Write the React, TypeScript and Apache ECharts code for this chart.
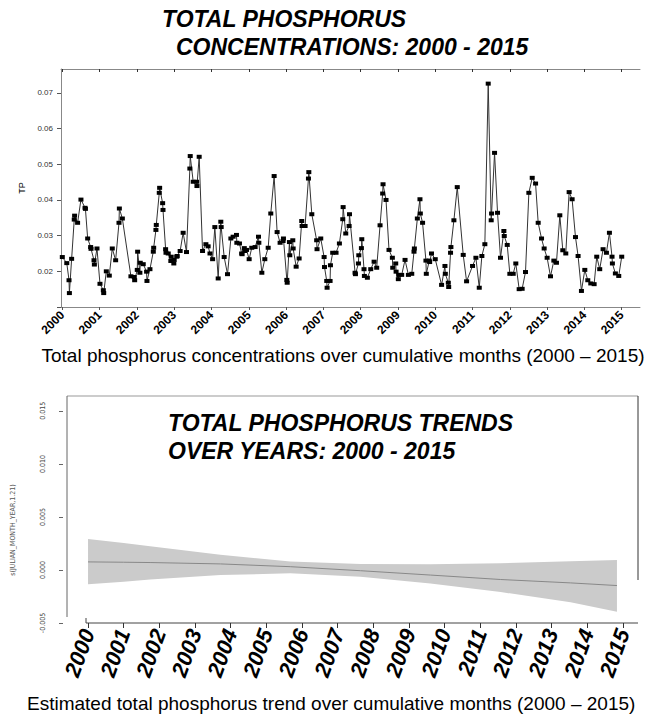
import React, { useEffect, useRef } from "react";
import * as echarts from "echarts";

// ---- Total phosphorus samples (decimal year, mg/L) ----
const tpYears = [
  2000.0, 2000.12, 2000.18, 2000.19, 2000.25, 2000.32, 2000.33, 2000.41, 2000.5, 2000.61, 2000.62, 2000.68,
  2000.76, 2000.77, 2000.85, 2000.86, 2000.93, 2001.01, 2001.1, 2001.11, 2001.18, 2001.26, 2001.34, 2001.43,
  2001.52, 2001.53, 2001.61, 2001.84, 2001.93, 2001.94, 2002.01, 2002.02, 2002.08, 2002.09, 2002.17, 2002.26,
  2002.27, 2002.35, 2002.44, 2002.45, 2002.51, 2002.52, 2002.6, 2002.61, 2002.69, 2002.7, 2002.77, 2002.78,
  2002.84, 2002.91, 2002.92, 2002.99, 2003.0, 2003.07, 2003.08, 2003.16, 2003.24, 2003.33, 2003.42, 2003.43,
  2003.51, 2003.6, 2003.61, 2003.67, 2003.76, 2003.85, 2003.91, 2003.96, 2004.03, 2004.09, 2004.18, 2004.25,
  2004.26, 2004.34, 2004.43, 2004.52, 2004.58, 2004.67, 2004.68, 2004.75, 2004.81, 2004.82, 2004.88, 2004.89,
  2004.94, 2005.01, 2005.08, 2005.17, 2005.26, 2005.27, 2005.35, 2005.43, 2005.52, 2005.59, 2005.68, 2005.76,
  2005.84, 2005.92, 2005.93, 2006.02, 2006.03, 2006.09, 2006.1, 2006.18, 2006.19, 2006.27, 2006.35, 2006.42,
  2006.43, 2006.51, 2006.6, 2006.61, 2006.69, 2006.82, 2006.83, 2006.93, 2007.02, 2007.03, 2007.09, 2007.1,
  2007.18, 2007.19, 2007.25, 2007.34, 2007.43, 2007.52, 2007.53, 2007.6, 2007.69, 2007.7, 2007.85, 2007.86,
  2007.94, 2007.95, 2008.02, 2008.03, 2008.09, 2008.1, 2008.18, 2008.27, 2008.36, 2008.43, 2008.52, 2008.59,
  2008.6, 2008.68, 2008.76, 2008.85, 2008.86, 2008.94, 2008.95, 2009.01, 2009.02, 2009.1, 2009.19, 2009.28,
  2009.37, 2009.43, 2009.44, 2009.52, 2009.59, 2009.6, 2009.66, 2009.75, 2009.76, 2009.84, 2009.85, 2009.9,
  2010.0, 2010.17, 2010.26, 2010.27, 2010.35, 2010.36, 2010.41, 2010.42, 2010.5, 2010.59, 2010.75, 2010.84,
  2011.0, 2011.09, 2011.18, 2011.25, 2011.33, 2011.42, 2011.5, 2011.51, 2011.59, 2011.67, 2011.75, 2011.84,
  2011.85, 2011.93, 2012.0, 2012.09, 2012.16, 2012.25, 2012.33, 2012.42, 2012.51, 2012.6, 2012.69, 2012.76,
  2012.85, 2012.92, 2013.0, 2013.09, 2013.18, 2013.25, 2013.34, 2013.42, 2013.5, 2013.59, 2013.67, 2013.76,
  2013.83, 2013.92, 2014.01, 2014.09, 2014.17, 2014.26, 2014.33, 2014.41, 2014.5, 2014.59, 2014.67, 2014.74,
  2014.75, 2014.83, 2014.92, 2015.0,
];
const tpValues = [
  0.024, 0.0223, 0.0175, 0.0139, 0.0235, 0.0345, 0.0356, 0.0336, 0.0401, 0.0378, 0.0375, 0.0292,
  0.0268, 0.0263, 0.0231, 0.0219, 0.0264, 0.0165, 0.0147, 0.0139, 0.02, 0.0188, 0.0264, 0.0231,
  0.0336, 0.0376, 0.0348, 0.0186, 0.0184, 0.0175, 0.0204, 0.0255, 0.0196, 0.0224, 0.022, 0.0199,
  0.0173, 0.0206, 0.0255, 0.0266, 0.0316, 0.033, 0.042, 0.0434, 0.0391, 0.0372, 0.0262, 0.0252,
  0.025, 0.0229, 0.0241, 0.0222, 0.0232, 0.0241, 0.0243, 0.0257, 0.0308, 0.0254, 0.0488, 0.0523,
  0.0451, 0.0451, 0.0439, 0.0521, 0.0257, 0.0276, 0.027, 0.025, 0.0234, 0.0324, 0.018, 0.0339,
  0.0324, 0.024, 0.0192, 0.0292, 0.0297, 0.0302, 0.028, 0.0278, 0.025, 0.0248, 0.0265, 0.0257,
  0.026, 0.0234, 0.0266, 0.0268, 0.0297, 0.028, 0.0196, 0.0234, 0.0266, 0.0362, 0.0467, 0.031,
  0.028, 0.0285, 0.0292, 0.0176, 0.0168, 0.0282, 0.0245, 0.0287, 0.0264, 0.0213, 0.0236, 0.0341,
  0.0327, 0.0327, 0.046, 0.0478, 0.036, 0.0287, 0.0262, 0.0292, 0.024, 0.0212, 0.0173, 0.0154,
  0.0173, 0.0217, 0.0252, 0.0252, 0.0278, 0.0346, 0.038, 0.0306, 0.0327, 0.036, 0.0196, 0.0192,
  0.0222, 0.0245, 0.0265, 0.029, 0.0206, 0.0187, 0.0182, 0.0206, 0.0227, 0.021, 0.0329, 0.0418,
  0.0444, 0.04, 0.026, 0.0238, 0.021, 0.0222, 0.0199, 0.0178, 0.019, 0.019, 0.0232, 0.019,
  0.0193, 0.0255, 0.0264, 0.0348, 0.0402, 0.0362, 0.0336, 0.023, 0.0193, 0.023, 0.0226, 0.025,
  0.0234, 0.0162, 0.0215, 0.0193, 0.0168, 0.0156, 0.0252, 0.0268, 0.0343, 0.0436, 0.0246, 0.0172,
  0.0215, 0.0238, 0.0154, 0.0243, 0.0276, 0.0726, 0.0343, 0.0362, 0.0532, 0.0364, 0.0238, 0.0313,
  0.0299, 0.0274, 0.0193, 0.0193, 0.0222, 0.015, 0.0151, 0.0198, 0.042, 0.0462, 0.0446, 0.0336,
  0.0292, 0.0264, 0.0238, 0.0186, 0.023, 0.0224, 0.0357, 0.0259, 0.025, 0.0422, 0.0402, 0.0296,
  0.0243, 0.0145, 0.0204, 0.0175, 0.0166, 0.0164, 0.0241, 0.0206, 0.0262, 0.0252, 0.0308, 0.0241,
  0.0222, 0.0194, 0.0187, 0.0241,
];

// ---- Estimated smooth trend with confidence band ----
const trendYears = [2000.0, 2001.0, 2001.74, 2003.71, 2005.67, 2007.64, 2009.6, 2011.57, 2013.53, 2014.83];
const trendFit = [0.00076, 0.00073, 0.0007, 0.00057, 0.00031, -0.00007, -0.00048, -0.0009, -0.00122, -0.00147];
const trendUpper = [0.00293, 0.00255, 0.00223, 0.00143, 0.00079, 0.00057, 0.00054, 0.00063, 0.00083, 0.00095];
const trendLower = [-0.00135, -0.0011, -0.0009, -0.00048, -0.00032, -0.00064, -0.00128, -0.00208, -0.00304, -0.00393];

const yearTicks = [2000, 2001, 2002, 2003, 2004, 2005, 2006, 2007, 2008, 2009, 2010, 2011, 2012, 2013, 2014, 2015];

const topTitle = ["TOTAL PHOSPHORUS", "CONCENTRATIONS: 2000 - 2015"];
const bottomTitle = ["TOTAL PHOSPHORUS TRENDS", "OVER YEARS: 2000 - 2015"];
const topCaption = "Total phosphorus concentrations over cumulative months (2000 \u2013 2015)";
const bottomCaption = "Estimated total phosphorus trend over cumulative months (2000 \u2013 2015)";
const bottomYName = "s(JULIAN_MONTH_YEAR,1.21)";

const SANS = "'Liberation Sans', Arial, sans-serif";
const NARROW = "'Liberation Sans Narrow', 'DejaVu Sans Condensed', sans-serif";

export default function App() {
  const ref = useRef<HTMLDivElement>(null);

  useEffect(() => {
    if (!ref.current) return;
    const chart = echarts.init(ref.current, undefined, { renderer: "svg" });

    const tpData = tpYears.map((y, i) => [y, tpValues[i]]);
    const fitData = trendYears.map((y, i) => [y, trendFit[i]]);

    const titleStyle = {
      fontFamily: SANS,
      fontWeight: "bold",
      fontStyle: "italic",
      fontSize: 23,
      fill: "#000",
      textAlign: "left",
      textVerticalAlign: "middle",
    };

    const option: any = {
      animation: false,
      backgroundColor: "#fff",
      grid: [
        { left: 61, right: 7, top: 69, bottom: 410 },
        { left: 67, right: 9, top: 396, bottom: 94 },
      ],
      xAxis: [
        {
          type: "value",
          gridIndex: 0,
          position: "bottom",
          min: 1999.965,
          max: 2015.49,
          splitLine: { show: false },
          axisLine: { show: true, onZero: false, lineStyle: { color: "#888", width: 1 } },
          axisTick: { show: true, customValues: yearTicks, length: 3, lineStyle: { color: "#555" } },
          axisLabel: {
            customValues: yearTicks,
            rotate: 45,
            margin: 6,
            fontFamily: SANS,
            fontWeight: "bold",
            fontSize: 12,
            color: "#000",
            formatter: (v: number) => String(Math.round(v)),
          },
        },
        {
          type: "value",
          gridIndex: 0,
          position: "top",
          min: 1999.965,
          max: 2015.49,
          splitLine: { show: false },
          axisLine: { show: true, onZero: false, lineStyle: { color: "#888", width: 1 } },
          axisTick: { show: true, inside: true, customValues: yearTicks, length: 3, lineStyle: { color: "#333" } },
          axisLabel: { show: false },
        },
        {
          type: "value",
          gridIndex: 1,
          position: "bottom",
          min: 1999.41,
          max: 2015.42,
          splitLine: { show: false },
          axisLine: { show: false, onZero: false },
          axisTick: { show: true, customValues: yearTicks, length: 5, lineStyle: { color: "#333" } },
          axisLabel: {
            customValues: yearTicks,
            rotate: 70,
            margin: 7,
            fontFamily: SANS,
            fontWeight: "bold",
            fontStyle: "italic",
            fontSize: 22,
            color: "#000",
            formatter: (v: number) => String(Math.round(v)),
          },
        },
      ],
      yAxis: [
        {
          type: "value",
          gridIndex: 0,
          min: 0.01,
          max: 0.0767,
          interval: 0.01,
          name: "TP",
          nameLocation: "middle",
          nameGap: 34,
          nameRotate: 90,
          nameTextStyle: { fontFamily: SANS, fontSize: 9, color: "#000" },
          splitLine: { show: false },
          axisLine: { show: true, onZero: false, lineStyle: { color: "#888", width: 1 } },
          axisTick: { show: true, length: 4, lineStyle: { color: "#555" } },
          axisLabel: {
            margin: 8,
            fontFamily: SANS,
            fontSize: 8,
            color: "#333",
            showMaxLabel: false,
            formatter: (v: number) => (v < 0.015 || v > 0.075 ? "" : v.toFixed(2)),
          },
        },
        {
          type: "value",
          gridIndex: 1,
          min: -0.005,
          max: 0.0164,
          interval: 0.005,
          offset: 4,
          splitLine: { show: false },
          axisLine: { show: false, onZero: false },
          axisTick: { show: true, length: 4, lineStyle: { color: "#666" } },
          axisLabel: {
            rotate: 90,
            margin: 17,
            fontFamily: NARROW,
            fontSize: 7,
            color: "#444",
            showMaxLabel: false,
            formatter: (v: number) => (v > 0.016 ? "" : v.toFixed(3)),
          },
        },
      ],
      series: [
        {
          type: "line",
          xAxisIndex: 0,
          yAxisIndex: 0,
          data: tpData,
          symbol: "rect",
          symbolSize: [5, 4],
          itemStyle: { color: "#000" },
          lineStyle: { color: "#333", width: 1 },
          z: 3,
        },
        {
          type: "custom",
          xAxisIndex: 2,
          yAxisIndex: 1,
          silent: true,
          data: [[trendYears[0], trendFit[0]]],
          renderItem: (params: any, api: any) => {
            const upper = trendYears.map((y, i) => api.coord([y, trendUpper[i]]));
            const lower = trendYears.map((y, i) => api.coord([y, trendLower[i]])).reverse();
            return {
              type: "polygon",
              shape: { points: upper.concat(lower) },
              style: { fill: "#cbcbcb", stroke: "none" },
            };
          },
          z: 2,
        },
        {
          type: "line",
          xAxisIndex: 2,
          yAxisIndex: 1,
          data: fitData,
          symbol: "none",
          lineStyle: { color: "#888", width: 1 },
          z: 4,
        },
      ],
      graphic: [
        { type: "text", x: 162, y: 19, style: { ...titleStyle, text: topTitle[0] } },
        { type: "text", x: 176, y: 47, style: { ...titleStyle, text: topTitle[1] } },
        { type: "text", x: 168, y: 423, style: { ...titleStyle, text: bottomTitle[0] } },
        { type: "text", x: 168, y: 451, style: { ...titleStyle, text: bottomTitle[1] } },
        {
          type: "text",
          x: 343,
          y: 355,
          style: { text: topCaption, fontFamily: SANS, fontSize: 19, fill: "#000", textAlign: "center", textVerticalAlign: "middle" },
        },
        {
          type: "text",
          x: 27,
          y: 703,
          style: { text: bottomCaption, fontFamily: SANS, fontSize: 19, fill: "#000", textAlign: "left", textVerticalAlign: "middle" },
        },
        {
          type: "text",
          x: 13,
          y: 530,
          rotation: Math.PI / 2,
          style: { text: bottomYName, fontFamily: NARROW, fontSize: 7, fill: "#555", textAlign: "center", textVerticalAlign: "middle" },
        },
        // frame of the lower panel
        { type: "line", shape: { x1: 67, y1: 396, x2: 638, y2: 396 }, style: { stroke: "#999", lineWidth: 1 } },
        { type: "line", shape: { x1: 638, y1: 396, x2: 638, y2: 580 }, style: { stroke: "#333", lineWidth: 1 } },
        { type: "line", shape: { x1: 67, y1: 396, x2: 67, y2: 617 }, style: { stroke: "#666", lineWidth: 1 } },
        { type: "line", shape: { x1: 86, y1: 623, x2: 638, y2: 623 }, style: { stroke: "#444", lineWidth: 1 } },
        { type: "line", shape: { x1: 86, y1: 618, x2: 86, y2: 623 }, style: { stroke: "#444", lineWidth: 1 } },
      ],
    };

    chart.setOption(option);
    return () => chart.dispose();
  }, []);

  return (
    <div
      ref={ref}
      style={{ position: "fixed", left: 0, top: 0, width: 647, height: 717, background: "#fff" }}
    />
  );
}
